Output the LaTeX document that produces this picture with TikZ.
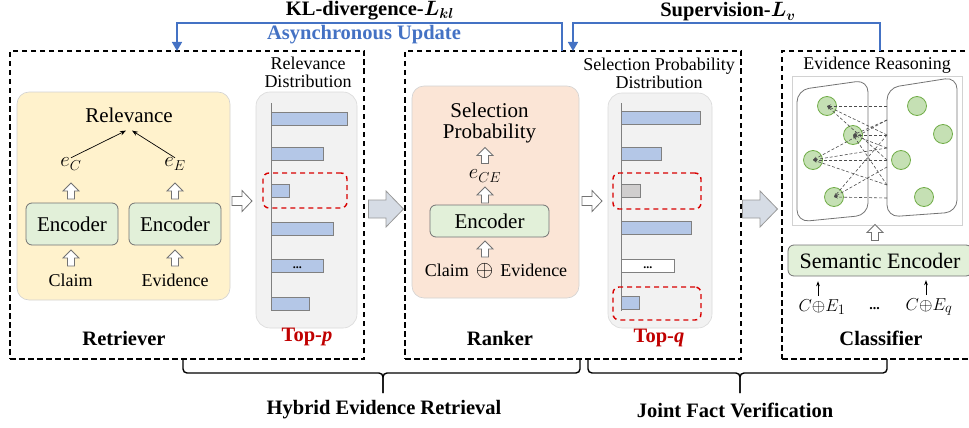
\documentclass[tikz,border=0pt]{standalone}
\usepackage{fontspec}
\usepackage{bm}
\setmainfont{Liberation Serif}
\usetikzlibrary{arrows.meta}

\definecolor{lineblue}{HTML}{4472C4}
\definecolor{relyellow}{HTML}{FFF2CC}
\definecolor{rankpeach}{HTML}{FBE5D6}
\definecolor{encgreen}{HTML}{E2F0D9}
\definecolor{panelgray}{HTML}{F2F2F2}
\definecolor{barblue}{HTML}{B4C7E7}
\definecolor{bargray}{HTML}{D0CECE}
\definecolor{topred}{HTML}{C00000}
\definecolor{flowgray}{HTML}{D6DCE5}
\definecolor{nodegreen}{HTML}{C5E0B4}
\definecolor{nodeedge}{HTML}{70AD47}

\newcommand{\fs}[1]{\fontsize{#1}{#1}\selectfont}

\tikzset{
  pics/upar/.style={code={
    \draw[gray!90!black,fill=white,line width=0.8pt]
      (-3.5,8) -- (-3.5,0) -- (-8,0) -- (0,-8) -- (8,0) -- (3.5,0) -- (3.5,8) -- cycle;}},
  pics/rgtar/.style={code={
    \draw[gray!90!black,fill=white,line width=0.8pt]
      (-10,-4.5) -- (0,-4.5) -- (0,-10.5) -- (10,0) -- (0,10.5) -- (0,4.5) -- (-10,4.5) -- cycle;}},
  pics/flow/.style={code={
    \draw[gray!80,fill=flowgray,line width=0.8pt]
      (-17.5,-9) -- (0,-9) -- (0,-18) -- (17.5,0) -- (0,18) -- (0,9) -- (-17.5,9) -- cycle;}},
}

\begin{document}
\begin{tikzpicture}[x=1pt,y=-1pt,
    every node/.style={inner sep=0pt,font=\fs{18}},
    stage/.style={draw,dash pattern=on 5.5pt off 3.5pt,line width=1.1pt,minimum width=#1,minimum height=308},
    pad/.style={draw=gray!35,rounded corners=12pt,line width=0.6pt},
    enc/.style={draw=gray!90!black,fill=encgreen,rounded corners=6pt,line width=0.8pt},
    dist/.style={draw=gray!30,fill=panelgray,rounded corners=14pt,line width=0.6pt},
    bar/.style={draw=gray,line width=0.9pt,anchor=west,minimum height=13},
    topk/.style={draw=red!85!black,dash pattern=on 5pt off 4pt,line width=1.4pt,rounded corners=6pt},
    feed/.style={draw=lineblue,line width=1.5pt},
    gnode/.style={circle,draw=nodeedge,fill=nodegreen,line width=0.8pt,minimum size=19},
    title/.style={font=\fs{20.5}\bfseries},
  ]
  \useasboundingbox (0,0) rectangle (969,428);

  % feedback lines on top
  \node[title] (kltxt) at (370,11) {KL-divergence-$\bm{L_{kl}}$};
  \node[title] (suptxt) at (728,12) {Supervision-$\bm{L_{v}}$};
  \node[title,text=lineblue] (async) at (364,35) {Asynchronous Update};
  \coordinate (klsrc) at (562,51);
  \coordinate (kldst) at (177,51);
  \coordinate (vsrc) at (880,51);
  \coordinate (vdst) at (573,51);

  % retriever
  \node[stage=354] (retr) at (187,205) {};
  \node[pad,fill=relyellow,minimum width=213,minimum height=208] (relpad) at (123.5,196) {};
  \node[font=\fs{21}] (rel) at (129,115) {Relevance};
  \node[font=\fs{22}] (ec) at (71,164) {$e_C$};
  \node[font=\fs{22}] (ee) at (175,164) {$e_E$};
  \draw[-{Stealth[length=6pt]},line width=0.7pt] (ec.north) -- ([shift={(-3,8)}]rel.south);
  \draw[-{Stealth[length=6pt]},line width=0.7pt] (ee.north) -- ([shift={(3,8)}]rel.south);
  \pic (ua1) at (71,191) {upar};
  \pic (ua2) at (175,191) {upar};
  \node[enc,minimum width=92,minimum height=42,font=\fs{21}] (encc) at (72,224) {Encoder};
  \node[enc,minimum width=92,minimum height=42,font=\fs{21}] (ence) at (175,224) {Encoder};
  \pic (ua3) at (71,258) {upar};
  \pic (ua4) at (175,258) {upar};
  \node (claim) at (70.5,280) {Claim};
  \node (evid) at (175,280) {Evidence};
  \node[title] (retrlbl) at (124,338) {Retriever};

  \pic (ra1) at (242,201) {rgtar};
  \node[dist,minimum width=101,minimum height=236] (reldist) at (306.5,210) {};
  \node[align=center] (reltitle) at (308,72) {Relevance\\Distribution};
  \draw[gray,line width=1pt] (271,103) -- (271,311);
  \foreach \w/\y [count=\i] in {76/118.5,52/153.5,18/190.5,62/228.5,52/266,38/303.5}
    \node[bar,fill=barblue,minimum width=\w] (rb\i) at (271,\y) {};
  \node[font=\fs{12}\bfseries] (rdots) at ([yshift=-2pt]rb5.center) {...};
  \node[topk,minimum width=84,minimum height=35] (topp) at (305,190.5) {};
  \node[title,text=topred] (topplbl) at (307,337) {Top-\textit{p}};

  \pic (fa1) at (386,209) {flow};

  % ranker
  \node[stage=336] (rank) at (573,205) {};
  \node[pad,fill=rankpeach,minimum width=167,minimum height=212] (rankpad) at (495.5,192) {};
  \node[align=center,font=\fs{21}] (selp) at (489.5,123) {Selection\\Probability};
  \pic (ua5) at (485,155.5) {upar};
  \node[font=\fs{22}] (ece) at (485,176) {$e_{CE}$};
  \pic (ua6) at (485,195) {upar};
  \node[enc,minimum width=119,minimum height=32,font=\fs{21}] (encr) at (489.5,221) {Encoder};
  \pic (ua7) at (485,249) {upar};
  \node (pair) at (496,271) {Claim\hspace{7pt}\scalebox{1.3}{$\oplus$}\hspace{7pt}Evidence};
  \node[title] (ranklbl) at (500,338) {Ranker};

  \pic (ra2) at (592,201) {rgtar};
  \node[dist,minimum width=104,minimum height=235] (seldist) at (660,210.5) {};
  \node[align=center] (seltitle) at (659,73.5) {Selection Probability\\Distribution};
  \draw[gray,line width=1pt] (621,103) -- (621,311);
  \foreach \w/\y/\c [count=\i] in {79/118/barblue,40/154/barblue,19/190.5/bargray,70/228/barblue,53/266/white,18/303/barblue}
    \node[bar,fill=\c,minimum width=\w] (sb\i) at (621,\y) {};
  \node[font=\fs{12}\bfseries] (sdots) at ([yshift=-2pt]sb5.center) {...};
  \node[topk,minimum width=88,minimum height=36] (topq1) at (657,191) {};
  \node[topk,minimum width=88,minimum height=33] (topq2) at (657,303.5) {};
  \node[title,text=topred] (topqlbl) at (659,338) {Top-\textit{q}};

  \pic (fa2) at (760,209) {flow};

  % classifier
  \node[stage=203] (clsf) at (883.5,205) {};
  \node (reason) at (877,65) {Evidence Reasoning};
  \node[draw=gray!35,line width=0.8pt,minimum width=170,minimum height=149] (graph) at (877,150.5) {};
  \draw[gray!90!black,line width=0.8pt,rounded corners=12pt] (797,90) -- (868,80) -- (868,215) -- (797,222) -- cycle;
  \draw[gray!90!black,line width=0.8pt,rounded corners=12pt] (887,88) -- (957,77) -- (957,212) -- (887,217) -- cycle;
  \foreach \n/\x/\y in {l1/827/106,l2/853/135,l3/813/160,l4/834/197,r1/917/106,r2/943/134,r3/901/160,r4/924/197}
    \node[gnode] (\n) at (\x,\y) {};
  \foreach \y [count=\i] in {106,120,135,148,160,167,185,198}
    \coordinate (p\i) at (887,\y);
  \foreach \s/\t in {p1/l1,p3/l1,p5/l1,p2/l2,p3/l2,p4/l2,p7/l2,p2/l3,p4/l3,p5/l3,p7/l3,p3/l4,p6/l4,p8/l4}
    \draw[densely dashed,gray!60!black,line width=0.6pt,-{Stealth[length=4pt]}] (\s) -- (\t.center);
  \pic (ua8) at (875,232.5) {upar};
  \node[enc,minimum width=184,minimum height=31,font=\fs{22}] (sem) at (880,260.5) {Semantic Encoder};
  \node[font=\fs{19}] (ce1) at (822,307) {$C{\oplus}E_1$};
  \node[font=\fs{14}\bfseries] (cdots) at (875,309) {\textit{...}};
  \node[font=\fs{19}] (ceq) at (929,307) {$C{\oplus}E_q$};
  \draw[-{Stealth[length=5pt]},line width=0.8pt] (ce1.north) ++(-4,-3) -- ++(0,-15);
  \draw[-{Stealth[length=5pt]},line width=0.8pt] (ceq.north) ++(-3,-3) -- ++(0,-15);
  \node[title] (clsflbl) at (881,338) {Classifier};

  % blue feedback connectors
  \draw[feed,-{Triangle[width=10pt,length=9pt]}] (klsrc) -- ++(0,-28) -| (kldst);
  \draw[feed,-{Triangle[width=10pt,length=9pt]}] (vsrc) -- ++(0,-28) -| (vdst);

  % brackets below
  \draw[line width=1.4pt,rounded corners=4pt] (183,359) |- (383,373) -- (383,393);
  \draw[line width=1.4pt,rounded corners=4pt] (580,359) |- (383,373) -- (383,393);
  \draw[line width=1.4pt,rounded corners=4pt] (588,359) |- (740,373) -- (740,393);
  \draw[line width=1.4pt,rounded corners=4pt] (887,359) |- (740,373) -- (740,393);
  \node[title] (hybrid) at (384,410) {Hybrid Evidence Retrieval};
  \node[title] (joint) at (735,410) {Joint Fact Verification};
\end{tikzpicture}
\end{document}
